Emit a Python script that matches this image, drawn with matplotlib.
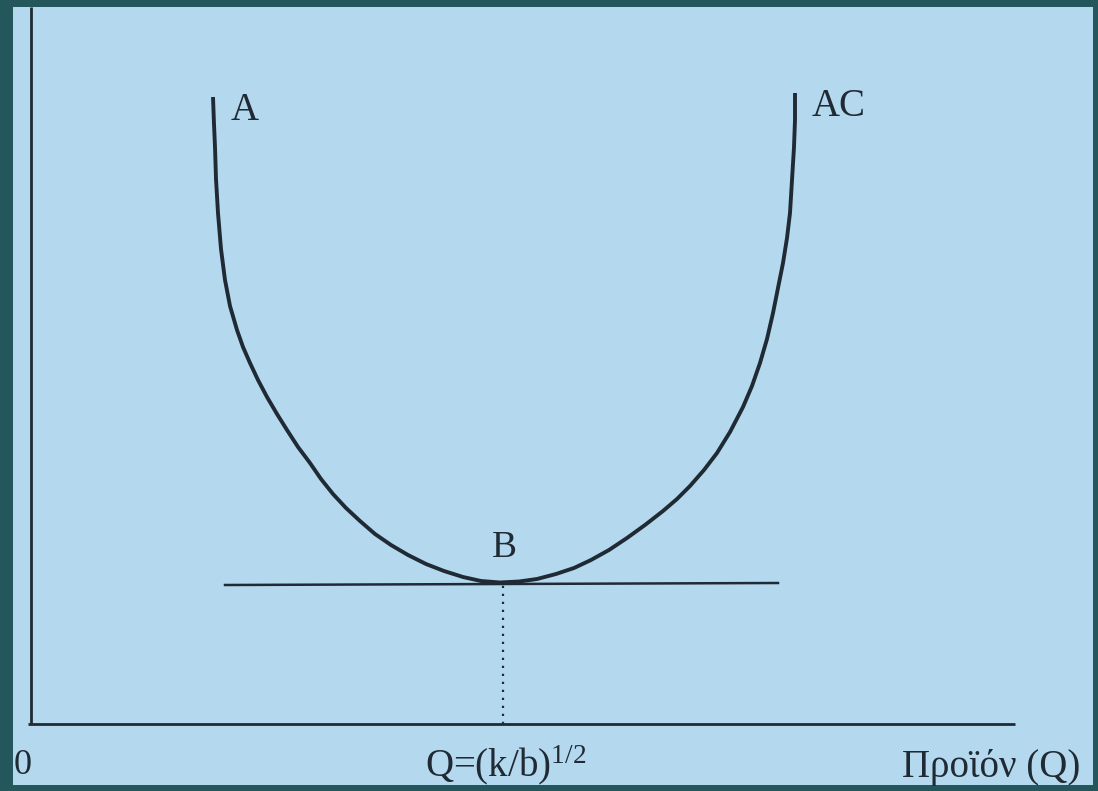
import matplotlib
matplotlib.use("Agg")
import matplotlib.pyplot as plt

# Average cost curve AC (Q, cost)
ac_q = [18.2, 18.3, 18.4, 18.5, 18.7, 19.0, 19.4, 19.9, 20.6, 21.2, 21.9, 22.7,
        23.6, 24.6, 25.6, 26.7, 27.9, 29.0, 30.2, 31.5, 32.9, 34.4, 36.0, 37.7,
        39.5, 41.3, 43.2, 45.0, 46.9, 48.8, 50.6, 52.5, 54.3, 56.0, 57.8, 59.6,
        61.4, 63.2, 64.6, 65.9, 67.3, 68.6, 69.9, 71.2, 72.1, 72.9, 73.6, 74.2,
        74.7, 75.2, 75.6, 75.9, 76.1, 76.3, 76.4, 76.4]
ac_cost = [62.7, 60.0, 57.7, 54.5, 51.1, 47.5, 44.4, 41.8, 39.4, 37.7, 36.1, 34.4,
           32.7, 31.0, 29.4, 27.7, 26.1, 24.5, 23.0, 21.6, 20.3, 19.0, 17.9, 16.9,
           16.0, 15.3, 14.7, 14.3, 14.15, 14.25, 14.5, 15.0, 15.6, 16.4, 17.4, 18.6,
           19.9, 21.3, 22.5, 23.8, 25.4, 27.1, 29.2, 31.7, 33.8, 36.1, 38.5, 41.1,
           43.6, 46.1, 48.6, 51.1, 54.4, 57.7, 60.4, 63.1]

# tangent line at the minimum B
tangent_q = [19.4, 74.7]
tangent_cost = [13.9, 14.1]

# optimal quantity
q_opt = 47.2
cost_min = 14.1

# axis extents
q_axis_end = 98.4
cost_axis_end = 71.7

border = "#24575c"
panel = "#b4d9ef"
ink = "#1f2a34"

plt.rcParams["mathtext.fontset"] = "custom"
plt.rcParams["mathtext.rm"] = "Liberation Serif"
plt.rcParams["mathtext.it"] = "Liberation Serif"

fig = plt.figure(figsize=(10.98, 7.91), dpi=100)
fig.patch.set_facecolor(border)

# panel from pixel 13..1093 horizontally and 7..785 vertically
ax = fig.add_axes([13 / 1098, 1 - 785 / 791, 1080 / 1098, 778 / 791])
ax.set_facecolor(panel)
ax.set_xlim(-1.8, 106.2)
ax.set_ylim(-6.1, 71.7)
for s in ax.spines.values():
    s.set_visible(False)
ax.set_xticks([])
ax.set_yticks([])

# axes of the diagram
ax.plot([0, 0], [0, cost_axis_end], color=ink, lw=2.0, solid_capstyle="butt")
ax.plot([-0.3, q_axis_end], [0, 0], color=ink, lw=2.0, solid_capstyle="butt")

# AC curve
ax.plot(ac_q, ac_cost, color=ink, lw=2.8, solid_joinstyle="round",
        solid_capstyle="butt")

# tangent and dotted drop line
ax.plot(tangent_q, tangent_cost, color=ink, lw=1.8)
ax.plot([q_opt, q_opt], [0, cost_min], color=ink, lw=1.6,
        linestyle=(0, (1, 2.6)))

serif = "Liberation Serif"
ax.text(21.4, 61.4, "A", fontsize=28, family=serif, color=ink,
        ha="center", va="center")
ax.text(80.8, 61.7, "AC", fontsize=28, family=serif, color=ink,
        ha="center", va="center")
ax.text(47.3, 17.6, "B", fontsize=27, family=serif, color=ink,
        ha="center", va="center")
ax.text(-0.8, -4.2, "0", fontsize=26, family=serif, color=ink,
        ha="center", va="center")
ax.text(47.5, -4.1, r"Q=(k/b)$^{1/2}$", fontsize=28, family=serif, color=ink,
        ha="center", va="center")
ax.text(96.0, -4.3, "Προϊόν (Q)", fontsize=28, family=serif, color=ink,
        ha="center", va="center", clip_on=False)

fig.savefig("out.png", dpi=100, facecolor=border)
